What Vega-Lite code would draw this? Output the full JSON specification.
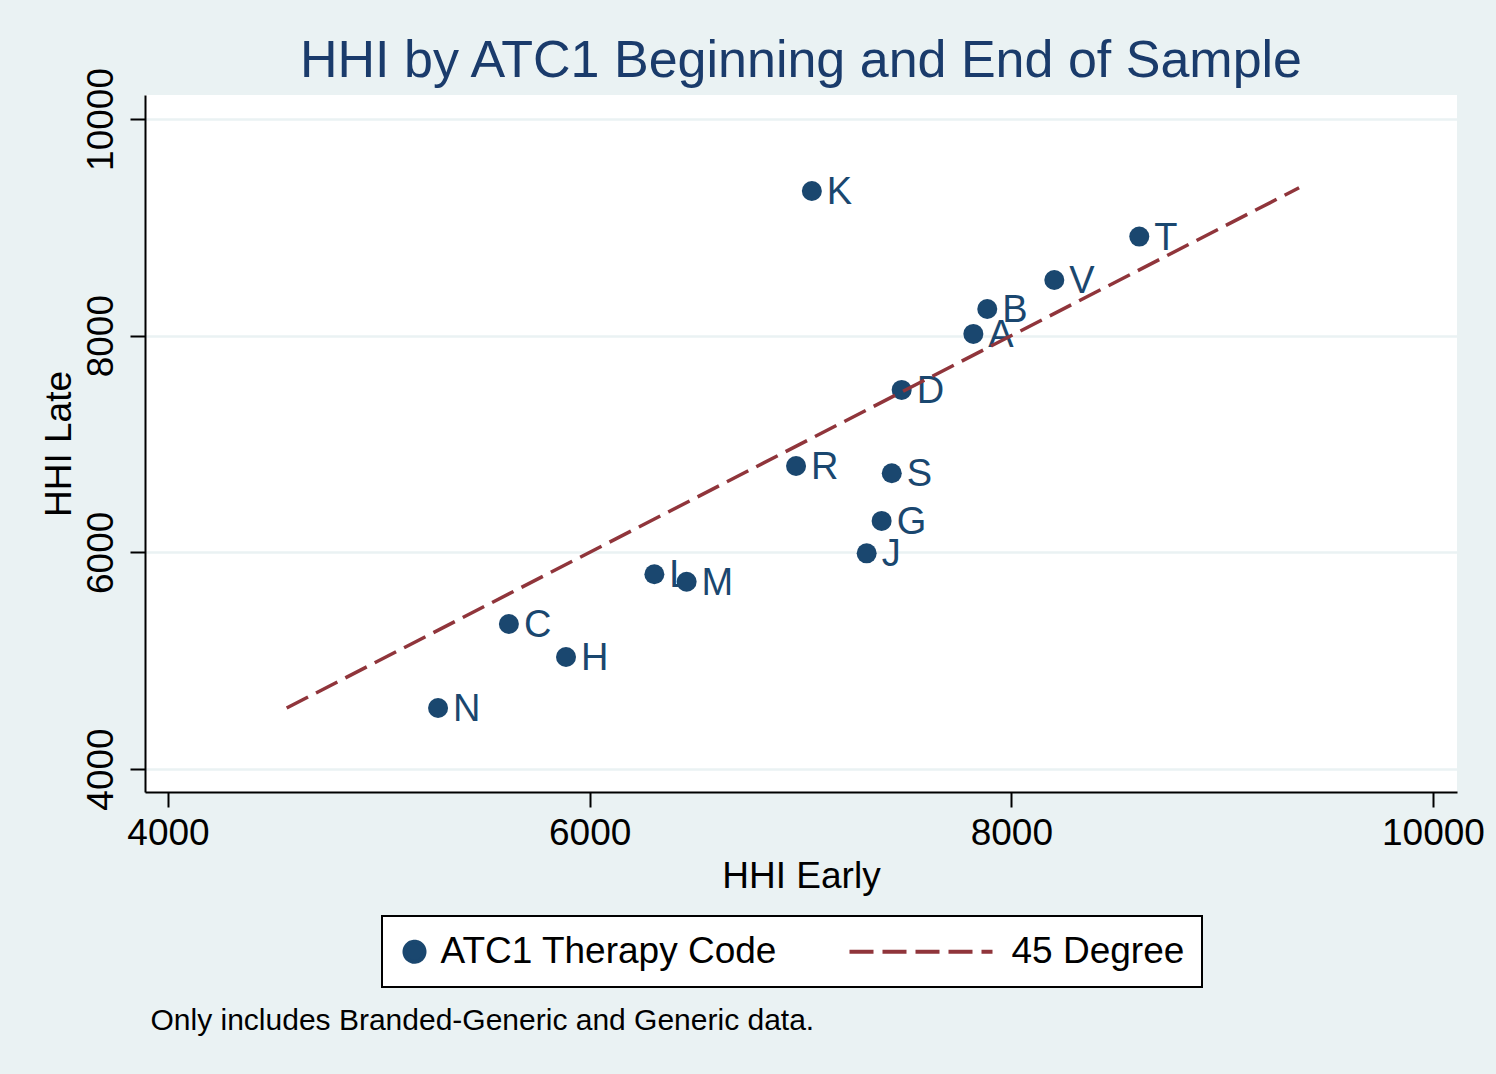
{
  "$schema": "https://vega.github.io/schema/vega-lite/v6.json",
  "width": 1312,
  "height": 697,
  "autosize": {"type": "none"},
  "padding": {"left": 145, "top": 95, "right": 39, "bottom": 282},
  "background": "#eaf2f3",
  "view": {"fill": "white", "stroke": null},
  "config": {"font": "Liberation Sans"},
  "title": {
    "text": "HHI by ATC1 Beginning and End of Sample",
    "fontSize": 52,
    "fontWeight": "normal",
    "font": "Liberation Sans",
    "color": "#1a3b6b",
    "anchor": "middle",
    "frame": "group",
    "baseline": "alphabetic",
    "offset": -61
  },
  "datasets": {
    "points": [
      {"code": "A", "early": 7820, "late": 8016, "series": "ATC1 Therapy Code"},
      {"code": "B", "early": 7886, "late": 8246, "series": "ATC1 Therapy Code"},
      {"code": "C", "early": 5617, "late": 5339, "series": "ATC1 Therapy Code"},
      {"code": "D", "early": 7480, "late": 7499, "series": "ATC1 Therapy Code"},
      {"code": "G", "early": 7385, "late": 6290, "series": "ATC1 Therapy Code"},
      {"code": "H", "early": 5888, "late": 5034, "series": "ATC1 Therapy Code"},
      {"code": "J", "early": 7314, "late": 5991, "series": "ATC1 Therapy Code"},
      {"code": "K", "early": 7054, "late": 9335, "series": "ATC1 Therapy Code"},
      {"code": "L", "early": 6307, "late": 5798, "series": "ATC1 Therapy Code"},
      {"code": "M", "early": 6460, "late": 5729, "series": "ATC1 Therapy Code"},
      {"code": "N", "early": 5281, "late": 4563, "series": "ATC1 Therapy Code"},
      {"code": "R", "early": 6979, "late": 6797, "series": "ATC1 Therapy Code"},
      {"code": "S", "early": 7433, "late": 6730, "series": "ATC1 Therapy Code"},
      {"code": "T", "early": 8607, "late": 8914, "series": "ATC1 Therapy Code"},
      {"code": "V", "early": 8204, "late": 8514, "series": "ATC1 Therapy Code"}
    ],
    "diag": [
      {"early": 4563, "late": 4563, "series": "45 Degree"},
      {"early": 9365, "late": 9365, "series": "45 Degree"}
    ]
  },
  "encoding": {
    "y": {
      "field": "late",
      "type": "quantitative",
      "scale": {"domain": [3788, 10221], "nice": false, "zero": false},
      "axis": {
        "title": "HHI Late",
        "values": [4000, 6000, 8000, 10000],
        "format": "d",
        "labelAngle": -90,
        "labelAlign": "center",
        "labelBaseline": "alphabetic",
        "labelPadding": 18,
        "labelFontSize": 37,
        "labelFont": "Liberation Sans",
        "labelColor": "black",
        "labelFlush": false,
        "labelOverlap": false,
        "tickSize": 15,
        "tickWidth": 2,
        "tickColor": "black",
        "domainColor": "black",
        "domainWidth": 2,
        "grid": true,
        "gridColor": "#eaf2f3",
        "gridWidth": 2.5,
        "titleFontSize": 37,
        "titleFont": "Liberation Sans",
        "titleFontWeight": "normal",
        "titleColor": "black",
        "titlePadding": 4
      }
    },
    "color": {
      "field": "series",
      "type": "nominal",
      "scale": {"domain": ["ATC1 Therapy Code", "45 Degree"], "range": ["#1a476f", "#90353b"]},
      "legend": {
        "title": null,
        "orient": "none",
        "direction": "horizontal",
        "legendX": 237,
        "legendY": 821,
        "padding": 17,
        "strokeColor": "black",
        "fillColor": "white",
        "labelFontSize": 37,
        "labelFont": "Liberation Sans",
        "labelColor": "black",
        "labelLimit": 1000,
        "labelOffset": 7.5,
        "columnPadding": 63,
        "symbolOffset": -3,
        "symbolSize": 400,
        "symbolStrokeWidth": 4,
        "encode": {
          "symbols": {
            "update": {
              "shape": {"signal": "(datum.value === '45 Degree') ? 'M-13.6,0L0.7,0' : 'circle'"},
              "fill": {"signal": "(datum.value === '45 Degree') ? 'transparent' : '#1a476f'"},
              "stroke": {"signal": "(datum.value === '45 Degree') ? '#90353b' : 'transparent'"},
              "strokeDash": {"signal": "(datum.value === '45 Degree') ? [24, 9] : [1, 0]"},
              "opacity": {"value": 1}
            }
          },
          "legend": {"update": {"strokeWidth": {"value": 2}}}
        }
      }
    }
  },
  "layer": [
    {
      "data": {"name": "points"},
      "mark": {"type": "circle", "size": 400, "opacity": 1},
      "encoding": {
        "x": {
          "field": "early",
          "type": "quantitative",
          "scale": {"domain": [3891, 10114], "nice": false, "zero": false},
          "axis": {
            "title": "HHI Early",
            "values": [4000, 6000, 8000, 10000],
            "format": "d",
            "orient": "bottom",
            "labelFontSize": 37,
            "labelFont": "Liberation Sans",
            "labelColor": "black",
            "labelPadding": 8,
            "labelFlush": false,
            "labelOverlap": false,
            "tickSize": 15,
            "tickWidth": 2,
            "tickColor": "black",
            "domainColor": "black",
            "domainWidth": 2,
            "grid": false,
            "titleFontSize": 37,
            "titleFont": "Liberation Sans",
            "titleFontWeight": "normal",
            "titleColor": "black",
            "titlePadding": 7
          }
        }
      }
    },
    {
      "data": {"name": "points"},
      "mark": {"type": "text", "align": "left", "baseline": "middle", "dx": 15, "dy": 2, "fontSize": 38, "font": "Liberation Sans", "color": "#1a476f"},
      "encoding": {
        "x": {"field": "early", "type": "quantitative", "axis": null},
        "text": {"field": "code", "type": "nominal"},
        "color": {"value": "#1a476f"}
      }
    },
    {
      "data": {"name": "diag"},
      "mark": {"type": "line", "strokeDash": [24, 9], "strokeWidth": 3.5, "strokeCap": "butt"},
      "encoding": {
        "x": {
          "field": "early",
          "type": "quantitative",
          "axis": {
            "title": "Only includes Branded-Generic and Generic data.",
            "orient": "bottom",
            "domain": false,
            "ticks": false,
            "labels": false,
            "grid": false,
            "titleFont": "Liberation Sans",
            "titleFontSize": 30,
            "titleFontWeight": "normal",
            "titleColor": "black",
            "titleAnchor": "start",
            "titleAlign": "left",
            "titleBaseline": "middle",
            "titleAngle": 0,
            "titleX": 5,
            "titleY": 228
          }
        }
      }
    }
  ],
  "resolve": {"axis": {"x": "independent"}}
}
